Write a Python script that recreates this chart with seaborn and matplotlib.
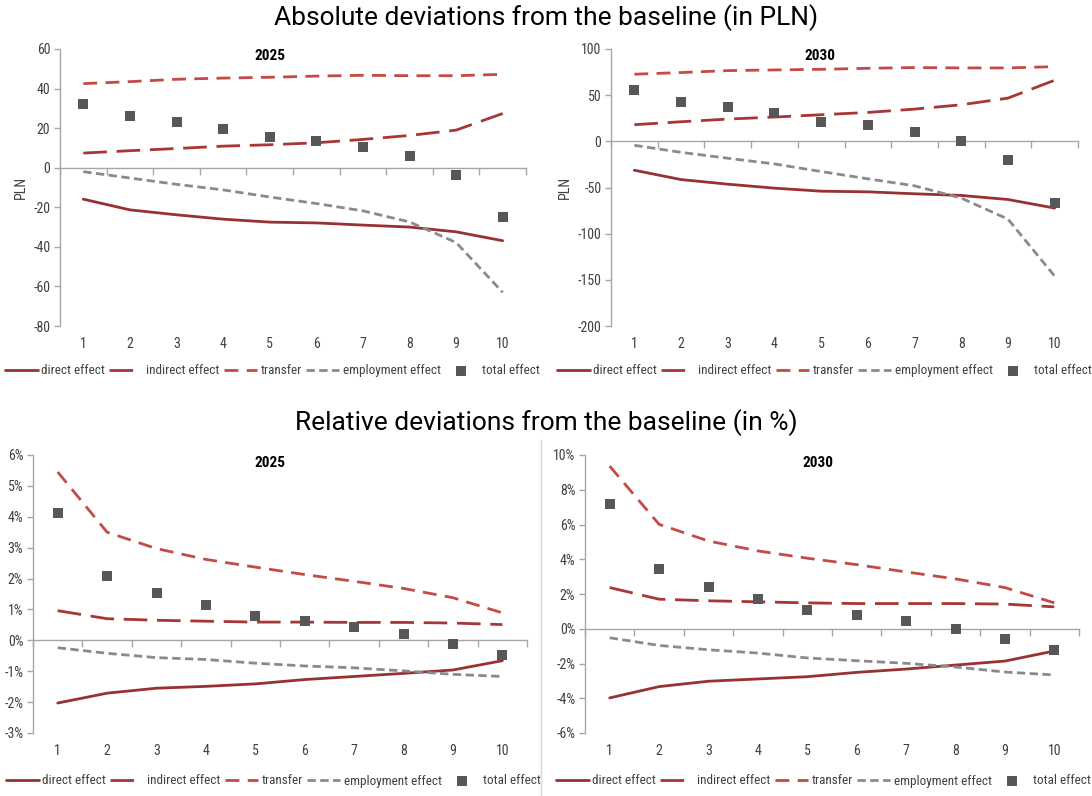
import numpy as np
import pandas as pd
import matplotlib
matplotlib.use('Agg')
import matplotlib.pyplot as plt
from matplotlib.lines import Line2D
from matplotlib.ticker import FuncFormatter
import seaborn as sns

sns.set_theme(style='white')
plt.rcParams['font.family'] = ['Roboto Condensed', 'Liberation Sans Narrow', 'Roboto', 'DejaVu Sans']
plt.rcParams['axes.unicode_minus'] = False

deciles = list(range(1, 11))
series_names = ['direct effect', 'indirect effect', 'transfer', 'employment effect']

# absolute deviations, PLN
abs_2025 = {
    'direct effect': [-15.9, -21.3, -23.8, -26.0, -27.5, -27.9, -29.0, -30.0, -32.4, -36.9],
    'indirect effect': [7.4, 8.6, 9.7, 10.9, 11.6, 12.6, 14.3, 16.3, 19.0, 27.4],
    'transfer': [42.5, 43.5, 44.7, 45.3, 45.7, 46.3, 46.7, 46.5, 46.5, 47.2],
    'employment effect': [-2.0, -5.2, -8.4, -11.2, -14.8, -18.1, -21.8, -27.4, -37.8, -63.0],
}
abs_2025_total = [32.1, 25.9, 23.0, 19.8, 15.3, 13.6, 10.6, 5.7, -3.7, -25.0]

abs_2030 = {
    'direct effect': [-31.3, -41.4, -46.4, -50.7, -54.0, -54.7, -56.8, -58.6, -63.0, -72.3],
    'indirect effect': [18.0, 21.2, 24.1, 26.3, 28.8, 31.3, 34.9, 39.6, 46.8, 66.2],
    'transfer': [72.7, 74.5, 76.6, 77.3, 78.0, 79.1, 79.9, 79.5, 79.5, 80.9],
    'employment effect': [-4.3, -11.9, -18.3, -24.5, -32.7, -40.6, -48.2, -61.5, -84.2, -146.0],
}
abs_2030_total = [55.8, 42.8, 37.0, 30.2, 21.2, 17.3, 10.1, 0.0, -20.1, -66.5]

# relative deviations, %
rel_2025 = {
    'direct effect': [-2.03, -1.71, -1.55, -1.49, -1.41, -1.27, -1.17, -1.07, -0.96, -0.66],
    'indirect effect': [0.96, 0.70, 0.65, 0.62, 0.59, 0.59, 0.58, 0.58, 0.56, 0.51],
    'transfer': [5.45, 3.50, 2.97, 2.62, 2.37, 2.13, 1.91, 1.68, 1.38, 0.89],
    'employment effect': [-0.24, -0.42, -0.56, -0.62, -0.74, -0.83, -0.89, -0.99, -1.10, -1.17],
}
rel_2025_total = [4.11, 2.08, 1.52, 1.14, 0.79, 0.64, 0.44, 0.22, -0.11, -0.46]

rel_2030 = {
    'direct effect': [-3.98, -3.33, -3.02, -2.89, -2.76, -2.51, -2.32, -2.09, -1.86, -1.28],
    'indirect effect': [2.37, 1.70, 1.61, 1.55, 1.49, 1.45, 1.45, 1.45, 1.42, 1.26],
    'transfer': [9.36, 6.01, 5.05, 4.48, 4.06, 3.69, 3.27, 2.87, 2.37, 1.49],
    'employment effect': [-0.52, -0.96, -1.21, -1.40, -1.68, -1.84, -1.99, -2.20, -2.49, -2.66],
}
rel_2030_total = [7.18, 3.46, 2.43, 1.74, 1.07, 0.80, 0.42, 0.0, -0.59, -1.21]

colors = {'direct effect': '#983232', 'indirect effect': '#a83636',
          'transfer': '#c44a48', 'employment effect': '#8a8a8a'}
styles = {'direct effect': '-', 'indirect effect': (0, (8.5, 3.5)),
          'transfer': (0, (5, 3)), 'employment effect': (0, (3, 1.6))}
total_color = '#575757'
txt_color = '#404040'
axis_color = '#a6a6a6'

fig = plt.figure(figsize=(10.92, 7.96), dpi=100)

panels = [
    # data, total, year, ylim, yticks, pct, axes rect, title xy, legend xy
    (abs_2025, abs_2025_total, '2025', (-80, 60), np.arange(-80, 61, 20), False,
     [60 / 1092, 1 - 326 / 796, 466 / 1092, 277 / 796], (270, 56), (272, 371)),
    (abs_2030, abs_2030_total, '2030', (-200, 100), np.arange(-200, 101, 50), False,
     [611 / 1092, 1 - 326 / 796, 467 / 1092, 277 / 796], (820, 56), (824, 371)),
    (rel_2025, rel_2025_total, '2025', (-3, 6), np.arange(-3, 7, 1), True,
     [33 / 1092, 1 - 733 / 796, 494 / 1092, 278 / 796], (270, 463), (273, 781)),
    (rel_2030, rel_2030_total, '2030', (-6, 10), np.arange(-6, 11, 2), True,
     [585 / 1092, 1 - 733 / 796, 494 / 1092, 278 / 796], (818, 463), (823, 781)),
]

for data, total, year, ylim, yticks, pct, rect, tpos, lpos in panels:
    ax = fig.add_axes(rect)
    for name in series_names:
        sns.lineplot(x=deciles, y=data[name], ax=ax, color=colors[name],
                     linestyle=styles[name], linewidth=2.0, label=name)
    sns.scatterplot(x=deciles, y=total, ax=ax, color=total_color, marker='s',
                    s=55, linewidth=0, label='total effect', zorder=5)

    ax.set_xlim(0.5, 10.5)
    ax.set_ylim(*ylim)
    ax.set_yticks(yticks)
    if pct:
        ax.yaxis.set_major_formatter(FuncFormatter(lambda v, p: f'{v:.0f}%'))
    ax.tick_params(axis='y', direction='out', length=4, width=1, color=axis_color,
                   labelsize=10, labelcolor=txt_color, pad=3, left=True)
    for s in ['top', 'right']:
        ax.spines[s].set_visible(False)
    ax.spines['left'].set_color(axis_color)
    ax.spines['left'].set_linewidth(1)

    # horizontal axis sits at zero, with ticks on category boundaries
    ax.spines['bottom'].set_position(('data', 0))
    ax.spines['bottom'].set_color(axis_color)
    ax.spines['bottom'].set_linewidth(1)
    ax.set_xticks(np.arange(0.5, 11, 1))
    ax.set_xticklabels([])
    ax.tick_params(axis='x', direction='out', length=5, width=1, color=axis_color, bottom=True)

    # category labels at the bottom of the plot area
    lab = ax.secondary_xaxis(0)
    lab.set_xticks(deciles)
    lab.tick_params(length=0, labelsize=10, labelcolor=txt_color, pad=8)
    for s in lab.spines.values():
        s.set_visible(False)

    ax.set_xlabel('')
    ax.set_ylabel('')
    if not pct:
        ax.set_ylabel('PLN', fontsize=10, color=txt_color, labelpad=4)

    fig.text(tpos[0] / 1092, 1 - tpos[1] / 796, year, ha='center', va='center',
             fontsize=11, fontweight='bold', color='black')

    h, l = ax.get_legend_handles_labels()
    ax.legend(h, l, loc='center', bbox_to_anchor=(lpos[0] / 1092, 1 - lpos[1] / 796),
              bbox_transform=fig.transFigure, ncol=5, frameon=False, fontsize=9.5,
              handlelength=2.5, handletextpad=0.3, columnspacing=0.3,
              labelcolor=txt_color, borderaxespad=0)

fig.text(0.5, 1 - 18 / 796, 'Absolute deviations from the baseline (in PLN)',
         ha='center', va='center', fontsize=19, family=['Roboto', 'DejaVu Sans'], color='black')
fig.text(0.5, 1 - 423 / 796, 'Relative deviations from the baseline (in %)',
         ha='center', va='center', fontsize=19, family=['Roboto', 'DejaVu Sans'], color='black')

fig.add_artist(Line2D([541 / 1092, 541 / 1092], [1 - 440 / 796, 0], color='#d9d9d9', linewidth=1))

fig.savefig('out.png', dpi=100)
